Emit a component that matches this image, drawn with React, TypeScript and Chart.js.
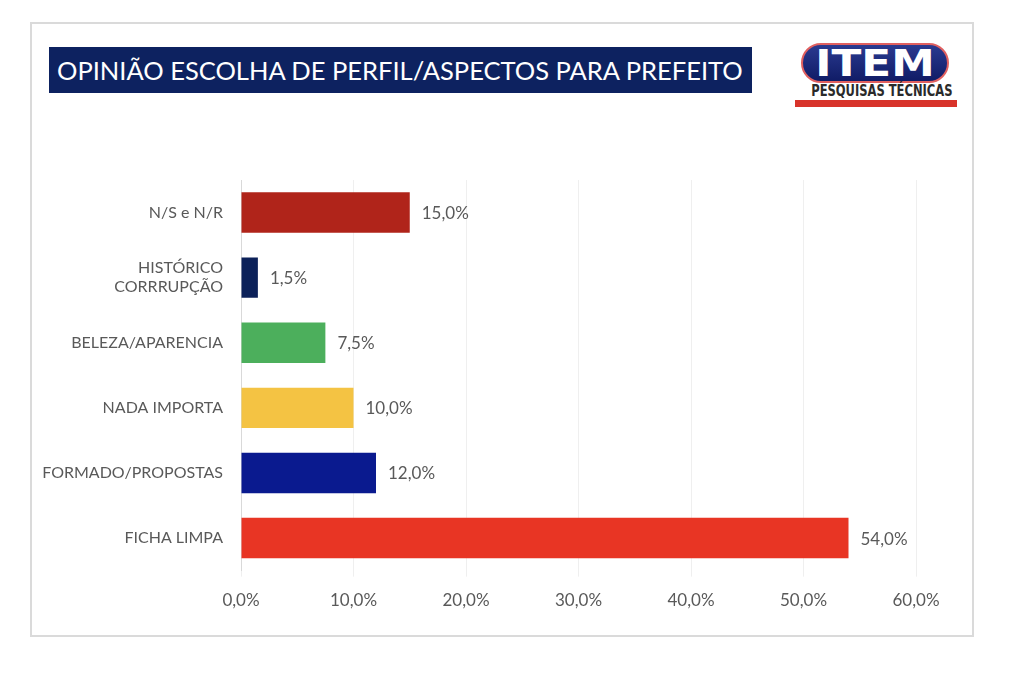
import { useEffect, useRef } from "react";
import { Chart, registerables } from "chart.js";

Chart.register(...registerables);

const categories = [
  "N/S e N/R",
  ["HISTÓRICO", "CORRRUPÇÃO"],
  "BELEZA/APARENCIA",
  "NADA IMPORTA",
  "FORMADO/PROPOSTAS",
  "FICHA LIMPA",
];
const values = [15.0, 1.5, 7.5, 10.0, 12.0, 54.0];
const barColors = ["#b0241a", "#0c2159", "#4caf5c", "#f4c343", "#0a1a8f", "#e83524"];
const tickValues = [0, 10, 20, 30, 40, 50, 60];

const FONT = "Lato, 'Open Sans', sans-serif";
const fmt = (v: number) => v.toFixed(1).replace(".", ",") + "%";

// draws the value next to each bar
const valueLabels = {
  id: "valueLabels",
  afterDatasetsDraw(chart: Chart) {
    const ctx = chart.ctx;
    const meta = chart.getDatasetMeta(0);
    ctx.save();
    ctx.font = `17px ${FONT}`;
    ctx.fillStyle = "#595959";
    ctx.textAlign = "left";
    ctx.textBaseline = "middle";
    meta.data.forEach((bar: any, i: number) => {
      ctx.fillText(fmt(values[i]), bar.x + 12, bar.y + 1);
    });
    ctx.restore();
  },
};

export default function App() {
  const chartRef = useRef<HTMLCanvasElement>(null);
  const chartInstanceRef = useRef<Chart | null>(null);

  useEffect(() => {
    if (!chartRef.current) return;
    if (chartInstanceRef.current) chartInstanceRef.current.destroy();

    chartInstanceRef.current = new Chart(chartRef.current, {
      type: "bar",
      data: {
        labels: categories,
        datasets: [
          {
            data: values,
            backgroundColor: barColors,
            borderWidth: 0,
            barPercentage: 0.62,
            categoryPercentage: 1,
          },
        ],
      },
      options: {
        indexAxis: "y",
        animation: false,
        responsive: false,
        layout: { padding: { top: 30, right: 56, bottom: 5, left: 0 } },
        plugins: { legend: { display: false }, tooltip: { enabled: false } },
        scales: {
          x: {
            min: 0,
            max: 60,
            afterBuildTicks: (scale: any) => {
              scale.ticks = tickValues.map((v) => ({ value: v }));
            },
            ticks: {
              callback: (v: any) => fmt(Number(v)),
              color: "#595959",
              font: { family: FONT, size: 17 },
              padding: 14,
            },
            grid: { color: "#efefef", lineWidth: 1, tickLength: 6, drawTicks: true },
            border: { display: false },
          },
          y: {
            afterFit: (scale: any) => {
              scale.width = 211;
            },
            ticks: {
              color: "#595959",
              font: { family: FONT, size: 16 },
              padding: 10,
            },
            grid: { display: false },
            border: { display: true, color: "#d9d9d9", width: 1 },
          },
        },
      },
      plugins: [valueLabels],
    });

    return () => {
      if (chartInstanceRef.current) chartInstanceRef.current.destroy();
    };
  }, []);

  return (
    <div style={{ position: "absolute", left: 0, top: 0, width: 1024, height: 673, background: "#fff" }}>
      <div
        style={{
          position: "absolute",
          left: 30,
          top: 22,
          width: 940,
          height: 611,
          border: "2px solid #dadada",
        }}
      />
      <div
        style={{
          position: "absolute",
          left: 49,
          top: 47,
          width: 703,
          height: 46,
          background: "#0d2260",
          color: "#fff",
          fontFamily: FONT,
          fontSize: 25.5,
          lineHeight: "46px",
          paddingLeft: 8,
          boxSizing: "border-box",
          whiteSpace: "nowrap",
        }}
      >
        OPINIÃO ESCOLHA DE PERFIL/ASPECTOS PARA PREFEITO
      </div>
      {/* logo */}
      <div
        style={{
          position: "absolute",
          left: 801,
          top: 43,
          width: 148,
          height: 40,
          borderRadius: 20,
          boxSizing: "border-box",
          border: "2px solid #e06060",
          background: "linear-gradient(#2a3a90, #101c66)",
          overflow: "hidden",
        }}
      >
        <div
          style={{
            color: "#fff",
            fontFamily: "'DejaVu Sans', sans-serif",
            fontWeight: 900,
            fontSize: 38,
            lineHeight: "36px",
            textAlign: "center",
            transform: "scaleX(1.15)",
          }}
        >
          ITEM
        </div>
      </div>
      <div
        style={{
          position: "absolute",
          left: 795,
          top: 82,
          width: 162,
          fontFamily: "'DejaVu Sans Condensed', 'DejaVu Sans', sans-serif",
          fontWeight: 700,
          fontSize: 16,
          lineHeight: "18px",
          color: "#2a2a2a",
          whiteSpace: "nowrap",
          textAlign: "center",
          transform: "scaleX(0.8)",
        }}
      >
        PESQUISAS TÉCNICAS
      </div>
      <div style={{ position: "absolute", left: 795, top: 100, width: 162, height: 7, background: "#d8332a" }} />
      <canvas
        ref={chartRef}
        width={942}
        height={480}
        style={{ position: "absolute", left: 30, top: 150, width: 942, height: 480 }}
      />
    </div>
  );
}
